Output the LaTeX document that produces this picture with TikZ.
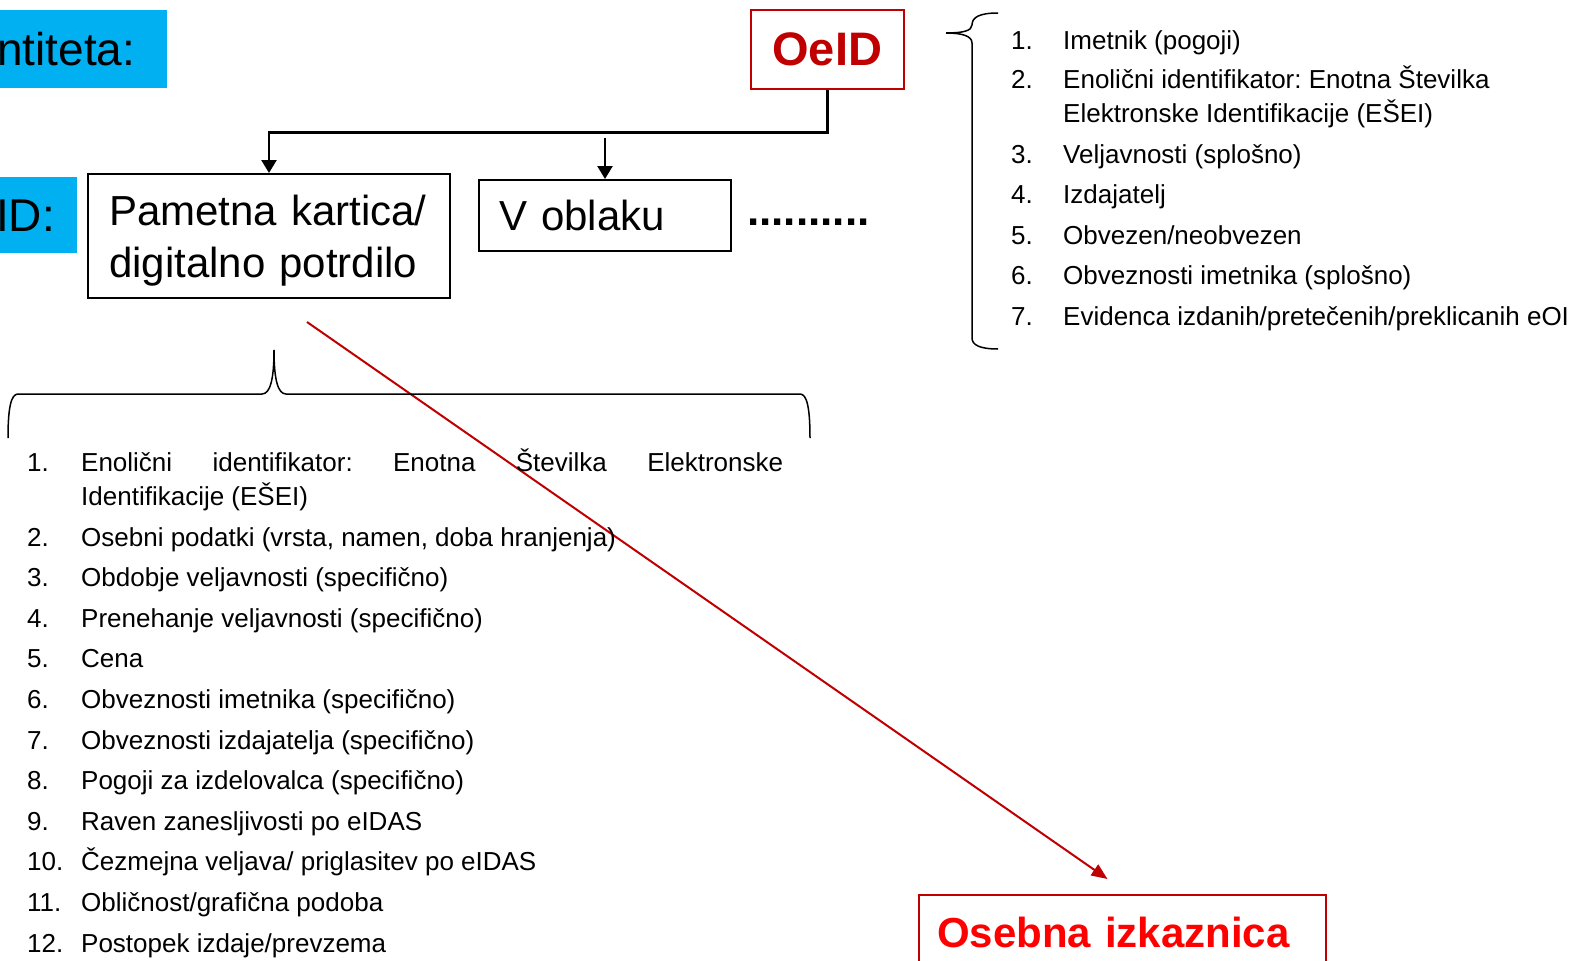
\documentclass[tikz,border=0pt]{standalone}
\usepackage{fontspec}
\setmainfont{Liberation Sans}
\usetikzlibrary{arrows.meta}
\definecolor{modra}{HTML}{00B0F0}
\definecolor{temnordeca}{HTML}{C00000}
\definecolor{rdeca}{HTML}{FF0000}
\frenchspacing

\begin{document}
\begin{tikzpicture}[x=1pt,y=-1pt,>={Triangle[length=13pt,width=15pt]},
  okvir/.style={draw,line width=2pt,inner sep=0pt,anchor=north west,align=left},
  oznaka/.style={fill=modra,inner sep=0pt,anchor=north west,align=left,font=\fontsize{46}{46}\selectfont},
  poveza/.style={line width=2.5pt},
  oklepaj/.style={line width=1.5pt}]
  \useasboundingbox (0,0) rectangle (1583,961);

  % modri napisi na levi
  \node[oznaka,minimum width=167pt,minimum height=78pt,text width=167pt] (entiteta) at (0,10) {\hspace*{-3pt}ntiteta:};
  \node[oznaka,minimum width=77pt,minimum height=76pt,text width=77pt] (eid) at (0,177) {\hspace*{-4pt}ID:};

  % okvirji
  \node[okvir,minimum width=362pt,minimum height=124pt,text width=320pt,
    font=\fontsize{42}{52}\selectfont] (pametna) at (87,173) {\rule{0pt}{40pt}Pametna kartica/\\digitalno potrdilo};
  \node[okvir,minimum width=252pt,minimum height=71pt,text width=212pt,
    font=\fontsize{42}{52}\selectfont] (oblak) at (478,179) {V oblaku};
  \node[inner sep=0pt,anchor=base west,font=\fontsize{44}{52}\selectfont\bfseries] (tocke) at (747,225) {..........};
  \node[okvir,draw=temnordeca,line width=1.5pt,minimum width=153pt,minimum height=79pt,
    text=temnordeca,font=\fontsize{47}{47}\selectfont\bfseries] (oeid) at (750,9) {OeID};
  \node[okvir,draw=temnordeca,minimum width=407pt,minimum height=74pt,text width=371pt,
    text=rdeca,font=\fontsize{42}{42}\selectfont\bfseries] (osebna) at (918,894) {Osebna izkaznica};

  % puscice
  \draw[poveza,->] (oeid.south) -- ++(0,43) -| (pametna.north);
  \coordinate (oblak-vrh) at ([yshift=41pt]oblak.north);
  \draw[poveza,->] (oblak-vrh) -- (oblak.north);
  \coordinate (rdeca-zacetek) at ([shift={(38,23)}]pametna.south);
  \coordinate (rdeca-konec) at ([shift={(-15,-15)}]osebna.north);
  \draw[temnordeca,line width=2pt,-{Triangle[length=16pt,width=13pt]}] (rdeca-zacetek) -- (rdeca-konec);

  % zavita oklepaja
  \draw[oklepaj] (998,13) .. controls (980,13) and (972,17) .. (972,25)
    .. controls (972,31) and (962,33) .. (946,33)
    .. controls (962,33) and (972,36) .. (972,43) -- (972,338)
    .. controls (972,345) and (980,349) .. (998,349);
  \draw[oklepaj] (8,438) .. controls (8,408) and (11,394) .. (18,394) -- (262,394)
    .. controls (270,394) and (274,380) .. (274,350)
    .. controls (274,380) and (278,394) .. (286,394) -- (800,394)
    .. controls (807,394) and (810,408) .. (810,438);

  \begin{scope}[font=\fontsize{26}{34}\selectfont,every node/.style={inner sep=0pt,anchor=base west}]
    % desni seznam
    \node (desno-1) at (1011,49) {\makebox[52pt][l]{1.}Imetnik (pogoji)};
    \node (desno-2) at (1011,88) {\makebox[52pt][l]{2.}Enolični identifikator: Enotna Številka};
    \node (desno-2b) at (1063,122) {Elektronske Identifikacije (EŠEI)};
    \foreach \t [count=\i from 3] in {Veljavnosti (splošno), Izdajatelj, Obvezen/neobvezen,
      Obveznosti imetnika (splošno), Evidenca izdanih/pretečenih/preklicanih eOI}
      \node (desno-\i) at (1011,{163+40.6*(\i-3)}) {\makebox[52pt][l]{\i.}\t};

    % spodnji seznam
    \node (dol-1) at (27,471) {\makebox[54pt][l]{1.}\makebox[702pt][s]{Enolični identifikator: Enotna Številka Elektronske}};
    \node (dol-1b) at (81,505) {Identifikacije (EŠEI)};
    \foreach \t [count=\i from 2] in {{Osebni podatki (vrsta, namen, doba hranjenja)},
      Obdobje veljavnosti (specifično), Prenehanje veljavnosti (specifično), Cena,
      Obveznosti imetnika (specifično), Obveznosti izdajatelja (specifično),
      Pogoji za izdelovalca (specifično), Raven zanesljivosti po eIDAS,
      Čezmejna veljava/ priglasitev po eIDAS, Obličnost/grafična podoba,
      Postopek izdaje/prevzema}
      \node (dol-\i) at (27,{546+40.6*(\i-2)}) {\makebox[54pt][l]{\i.}\t};
  \end{scope}
\end{tikzpicture}
\end{document}
